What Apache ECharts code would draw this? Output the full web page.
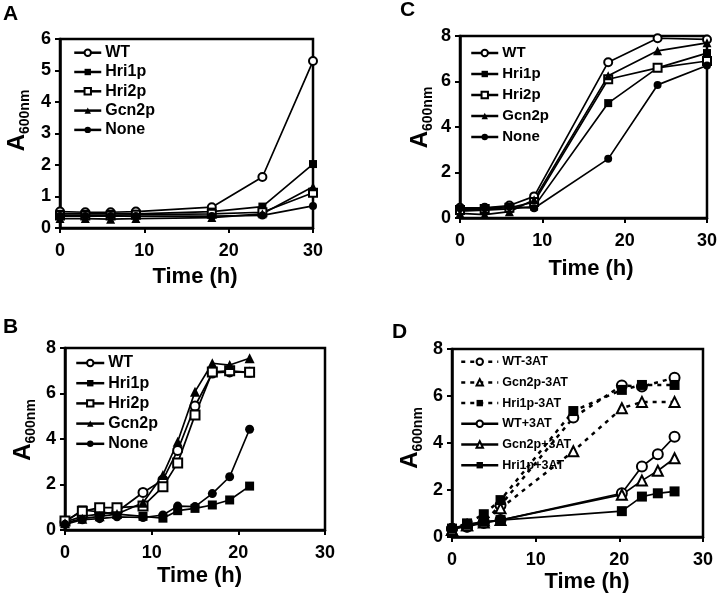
<!DOCTYPE html>
<html>
<head>
<meta charset="utf-8">
<script src="https://cdn.jsdelivr.net/npm/echarts@6/dist/echarts.min.js"></script>
<style>html,body{margin:0;padding:0;background:#fff}#main{width:720px;height:604px}</style>
</head>
<body>
<div id="main"></div>
<script>
// panel A
var timeA = [0, 3, 6, 9, 18, 24, 30];
var wtA = [0.52, 0.5, 0.5, 0.52, 0.66, 1.62, 5.3];
var hri1A = [0.45, 0.45, 0.45, 0.45, 0.52, 0.68, 2.03];
var hri2A = [0.4, 0.4, 0.4, 0.42, 0.45, 0.5, 1.12];
var gcn2A = [0.3, 0.3, 0.28, 0.3, 0.33, 0.45, 1.31];
var noneA = [0.38, 0.38, 0.38, 0.38, 0.38, 0.4, 0.7];

// panel B
var timeB = [0, 2, 4, 6, 9, 11.3, 13, 15, 17, 19, 21.3];
var wtB = [0.35, 0.6, 0.7, 0.8, 1.65, 2.2, 3.5, 5.45, 6.9, 6.95, 6.93];
var hri1B = [0.35, 0.88, 0.8, 0.7, 0.6, 0.52, 0.85, 0.95, 1.1, 1.32, 1.93];
var hri2B = [0.4, 0.82, 0.98, 0.98, 1.05, 1.9, 2.95, 5.05, 6.95, 7.0, 6.93];
var gcn2B = [0.3, 0.5, 0.6, 0.7, 1.2, 2.42, 3.88, 6.08, 7.33, 7.25, 7.55];
var noneB = [0.25, 0.45, 0.5, 0.58, 0.55, 0.66, 1.05, 1.03, 1.6, 2.34, 4.43];

// panel C
var timeC = [0, 3, 6, 9, 18, 24, 30];
var wtC = [0.45, 0.45, 0.55, 0.95, 6.85, 7.9, 7.85];
var hri1C = [0.3, 0.35, 0.4, 0.5, 5.05, 6.6, 7.25];
var hri2C = [0.35, 0.4, 0.45, 0.7, 6.1, 6.6, 6.9];
var gcn2C = [0.2, 0.15, 0.28, 0.8, 6.25, 7.35, 7.7];
var noneC = [0.43, 0.43, 0.5, 0.43, 2.6, 5.85, 6.7];

// panel D
var timeMinus = [0, 1.8, 3.8, 5.8, 14.5, 20.3, 22.7, 26.6];
var wtMinus = [0.35, 0.45, 0.65, 1.35, 5.08, 6.45, 6.4, 6.78];
var gcn2Minus = [0.3, 0.5, 0.7, 1.22, 3.65, 5.48, 5.75, 5.75];
var hri1Minus = [0.35, 0.58, 0.97, 1.57, 5.36, 6.26, 6.47, 6.47];
var timePlus = [0, 1.8, 3.8, 5.8, 20.3, 22.7, 24.6, 26.6];
var wtPlus = [0.35, 0.44, 0.6, 0.72, 1.86, 3.0, 3.52, 4.27];
var gcn2Plus = [0.3, 0.5, 0.62, 0.72, 1.8, 2.4, 2.82, 3.35];
var hri1Plus = [0.35, 0.55, 0.65, 0.72, 1.1, 1.72, 1.86, 1.94];

var FONT = "'Liberation Sans', Arial, sans-serif";
var chart = echarts.init(document.getElementById('main'));

function pts(xs, ys) {
    return xs.map(function (x, i) { return [x, ys[i]]; });
}

function line(name, idx, xs, ys, symbol, size, dashed) {
    return {
        name: name,
        type: 'line',
        xAxisIndex: idx,
        yAxisIndex: idx,
        data: pts(xs, ys),
        symbol: symbol,
        symbolSize: size,
        showAllSymbol: true,
        animation: false,
        lineStyle: {color: '#000', width: dashed ? 2.5 : 1.7, type: dashed ? [4, 5] : 'solid'},
        itemStyle: {color: '#000', borderWidth: 1.2}
    };
}

// A, B, C, D
var grids = [
    {left: 60, top: 39, width: 253, height: 189},
    {left: 65, top: 348, width: 260, height: 182},
    {left: 460, top: 36, width: 250, height: 182},
    {left: 452, top: 349, width: 251, height: 188}
];
var yMax = [6, 8, 8, 8];
var yStep = [1, 2, 2, 2];
var xNameGap = [38, 35, 40, 34];
var xNameShift = [17, 9, 15, 19];
var yNameGap = [31, 30, 28, 30];
var yNameShift = [26, 18, 19, 10];

var xAxes = [], yAxes = [];
for (var i = 0; i < 4; i++) {
    grids[i].show = true;
    grids[i].borderColor = '#000';
    grids[i].borderWidth = 2.5;
    xAxes.push({
        gridIndex: i, type: 'value', min: 0, max: 30, interval: 10,
        axisLine: {lineStyle: {color: '#000', width: 2.5}},
        axisTick: {length: 5, lineStyle: {color: '#000', width: 2}},
        axisLabel: {color: '#000', fontSize: 18, fontWeight: 'bold', fontFamily: FONT, margin: 14},
        splitLine: {show: false},
        name: 'Time (h)', nameLocation: 'middle', nameGap: xNameGap[i],
        nameTextStyle: {color: '#000', fontSize: 22, fontWeight: 'bold', fontFamily: FONT,
            padding: [0, 0, 0, xNameShift[i]]}
    });
    yAxes.push({
        gridIndex: i, type: 'value', min: 0, max: yMax[i], interval: yStep[i],
        axisLine: {lineStyle: {color: '#000', width: 2.5}},
        axisTick: {length: 5, lineStyle: {color: '#000', width: 2}},
        axisLabel: {color: '#000', fontSize: 18, fontWeight: 'bold', fontFamily: FONT, margin: 9},
        splitLine: {show: false},
        name: '{a|A}{s|600nm}', nameLocation: 'middle', nameRotate: 90, nameGap: yNameGap[i],
        nameTextStyle: {
            color: '#000', padding: [0, 0, 0, yNameShift[i]],
            rich: {
                a: {fontSize: 24, fontWeight: 'bold', fontFamily: FONT, color: '#000'},
                s: {fontSize: 14, fontWeight: 'bold', fontFamily: FONT, color: '#000', verticalAlign: 'bottom', padding: [0, 0, -3, 0]}
            }
        }
    });
}

var series = [
    line('WT', 0, timeA, wtA, 'emptyCircle', 8),
    line('Hri1p', 0, timeA, hri1A, 'rect', 8),
    line('Hri2p', 0, timeA, hri2A, 'emptyRect', 8),
    line('Gcn2p', 0, timeA, gcn2A, 'triangle', 9),
    line('None', 0, timeA, noneA, 'circle', 8),

    line('WT', 1, timeB, wtB, 'emptyCircle', 9),
    line('Hri1p', 1, timeB, hri1B, 'rect', 9),
    line('Hri2p', 1, timeB, hri2B, 'emptyRect', 9),
    line('Gcn2p', 1, timeB, gcn2B, 'triangle', 10),
    line('None', 1, timeB, noneB, 'circle', 9),

    line('WT', 2, timeC, wtC, 'emptyCircle', 8),
    line('Hri1p', 2, timeC, hri1C, 'rect', 8),
    line('Hri2p', 2, timeC, hri2C, 'emptyRect', 8),
    line('Gcn2p', 2, timeC, gcn2C, 'triangle', 9),
    line('None', 2, timeC, noneC, 'circle', 8),

    line('WT-3AT', 3, timeMinus, wtMinus, 'emptyCircle', 10, true),
    line('Gcn2p-3AT', 3, timeMinus, gcn2Minus, 'emptyTriangle', 10, true),
    line('Hri1p-3AT', 3, timeMinus, hri1Minus, 'rect', 10, true),
    line('WT+3AT', 3, timePlus, wtPlus, 'emptyCircle', 10),
    line('Gcn2p+3AT', 3, timePlus, gcn2Plus, 'emptyTriangle', 10),
    line('Hri1p+3AT', 3, timePlus, hri1Plus, 'rect', 10)
];

function legend(left, top, w, gap, fs, names) {
    return {
        orient: 'vertical', left: left, top: top, padding: 0,
        itemWidth: w, itemHeight: 8, itemGap: gap, selectedMode: false,
        data: names,
        lineStyle: {width: 2.5},
        textStyle: {color: '#000', fontSize: fs, fontWeight: 'bold', fontFamily: FONT, lineHeight: 16, padding: [0, 0, 0, -1]}
    };
}
var names5 = ['WT', 'Hri1p', 'Hri2p', 'Gcn2p', 'None'];

var option = {
    backgroundColor: '#fff',
    animation: false,
    grid: grids,
    xAxis: xAxes,
    yAxis: yAxes,
    legend: [
        legend(73, 44.7, 27, 3.3, 16, names5),
        legend(75, 355, 28, 4.2, 16, names5),
        legend(470, 45, 27, 5, 15, names5),
        legend(460, 353.7, 37, 4.7, 12.5,
            ['WT-3AT', 'Gcn2p-3AT', 'Hri1p-3AT', 'WT+3AT', 'Gcn2p+3AT', 'Hri1p+3AT'])
    ],
    graphic: [
        {type: 'text', left: 3, top: 4, style: {text: 'A', font: 'bold 21px ' + FONT, fill: '#000'}},
        {type: 'text', left: 3, top: 317, style: {text: 'B', font: 'bold 21px ' + FONT, fill: '#000'}},
        {type: 'text', left: 400, top: 0, style: {text: 'C', font: 'bold 21px ' + FONT, fill: '#000'}},
        {type: 'text', left: 392, top: 322, style: {text: 'D', font: 'bold 21px ' + FONT, fill: '#000'}}
    ],
    series: series
};
chart.setOption(option);
</script>
</body>
</html>
